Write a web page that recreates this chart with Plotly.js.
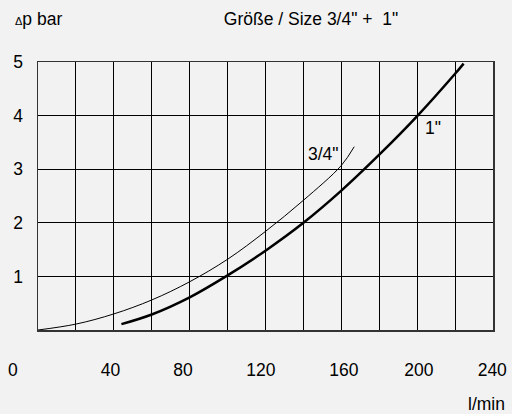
<!DOCTYPE html>
<html>
<head>
<meta charset="utf-8">
<script src="https://cdn.plot.ly/plotly-3.0.1.min.js"></script>
<style>html,body{margin:0;padding:0;background:#f2f2f2;}</style>
</head>
<body>
<div id="chart" style="width:512px;height:414px;"></div>
<script>
// Size 3/4" curve (flow l/min, pressure drop bar)
var flow34 = [0, 20, 40, 60, 80, 100, 120, 140, 160, 166.8];
var dp34   = [0, 0.11, 0.30, 0.56, 0.90, 1.32, 1.84, 2.42, 3.07, 3.42];
// Size 1" curve
var flow1 = [44, 60, 80, 100, 120, 140, 160, 180, 200, 220, 224.5];
var dp1   = [0.11, 0.29, 0.61, 1.02, 1.48, 2.0, 2.60, 3.27, 3.99, 4.78, 4.97];
// axis ticks
var xGrid = [0, 20, 40, 60, 80, 100, 120, 140, 160, 180, 200, 220, 240];
var xTickText = ['40', '80', '120', '160', '200', '240'];
var xTickPos  = [38.2, 76.5, 117.6, 161.3, 200.9, 239.6];
var xZeroLabel = '0';
var yTicks = [1, 2, 3, 4, 5];
var yTickText = ['1', '2', '3', '4', '5'];

var FONT = 'Liberation Sans, Arial, sans-serif';
var FS = 17.5;
var TXT = '#000';

var traces = [
  {x: flow34, y: dp34, mode: 'lines', line: {color: '#000', width: 1, shape: 'spline'}, name: '3/4"', showlegend: false, hoverinfo: 'skip'},
  {x: flow1, y: dp1, mode: 'lines', line: {color: '#000', width: 2.5, shape: 'spline'}, name: '1"', showlegend: false, hoverinfo: 'skip'},
  {x: [], y: [], xaxis: 'x2', yaxis: 'y', mode: 'lines', showlegend: false, hoverinfo: 'skip'}
];

var layout = {
  width: 512, height: 414,
  paper_bgcolor: '#f2f2f2', plot_bgcolor: '#f2f2f2',
  margin: {l: 38, r: 19, t: 62, b: 84},
  font: {family: FONT, size: FS, color: TXT},
  showlegend: false,
  title: {text: 'Größe / Size 3/4" +  1"', font: {family: FONT, size: FS, color: TXT},
          xref: 'paper', x: 0.60, xanchor: 'center', yref: 'container', y: 0.954, yanchor: 'middle'},
  xaxis: {range: [0, 240], tickvals: xGrid, showticklabels: false, ticks: '',
          showgrid: true, gridcolor: '#000', gridwidth: 1, zeroline: false,
          showline: true, linecolor: '#333', linewidth: 1.5, mirror: true, fixedrange: true},
  xaxis2: {overlaying: 'x', side: 'bottom', range: [0, 240], tickvals: xTickPos, ticktext: xTickText,
           showgrid: false, zeroline: false, showline: false, ticks: '', ticklabelstandoff: 27,
           tickfont: {family: FONT, size: FS, color: TXT}, fixedrange: true},
  yaxis: {range: [0, 5], tickvals: yTicks, ticktext: yTickText, ticks: '',
          showgrid: true, gridcolor: '#000', gridwidth: 1, zeroline: false,
          showline: true, linecolor: '#333', linewidth: 1.5, mirror: true,
          ticklabelstandoff: 10, tickfont: {family: FONT, size: FS, color: TXT}, fixedrange: true},
  annotations: [
    {text: '<span style="font-size:11px">Δ</span>p bar', xref: 'paper', yref: 'paper', x: -0.055, y: 1.16,
     xanchor: 'left', yanchor: 'middle', showarrow: false, font: {family: FONT, size: FS, color: TXT}},
    {text: 'l/min', xref: 'paper', yref: 'paper', x: 1.031, y: -0.277, xanchor: 'right', yanchor: 'middle',
     showarrow: false, font: {family: FONT, size: FS, color: TXT}},
    {text: xZeroLabel, xref: 'paper', yref: 'paper', x: -0.0543, y: -0.149, xanchor: 'center', yanchor: 'middle',
     showarrow: false, font: {family: FONT, size: FS, color: TXT}},
    {text: '3/4"', xref: 'x', yref: 'y', x: 150.5, y: 3.28, xanchor: 'center', yanchor: 'middle',
     showarrow: false, font: {family: FONT, size: FS, color: TXT}},
    {text: '1"', xref: 'x', yref: 'y', x: 208.6, y: 3.77, xanchor: 'center', yanchor: 'middle',
     showarrow: false, font: {family: FONT, size: FS, color: TXT}}
  ]
};

Plotly.newPlot('chart', traces, layout, {staticPlot: true, displayModeBar: false});
</script>
</body>
</html>
